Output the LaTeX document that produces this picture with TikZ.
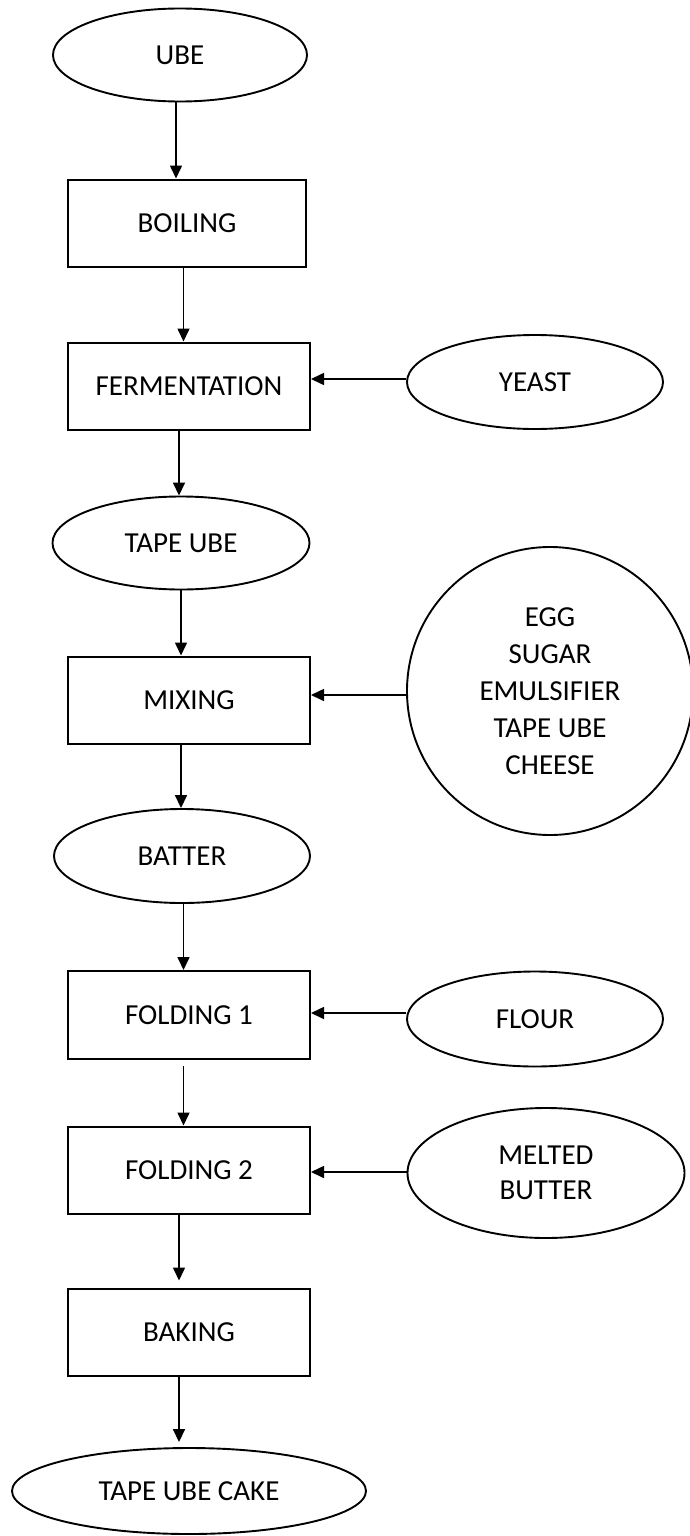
\documentclass[tikz,border=0pt]{standalone}
\usepackage{fontspec}
\setmainfont{Carlito}
\usetikzlibrary{shapes.geometric,arrows.meta}
\begin{document}
\begin{tikzpicture}[x=1pt,y=-1pt,
  every node/.style={font=\fontsize{29}{37}\selectfont, inner sep=0pt, align=center},
  procbox/.style={draw, line width=2pt, rectangle, minimum width=242pt, minimum height=87pt},
  oval/.style={draw, line width=1.9pt, ellipse},
  flow/.style={line width=1.6pt, -{Triangle[length=13pt,width=12pt]}}]
\useasboundingbox (0,0) rectangle (689,1536);
\fill[white] (0,0) rectangle (689,1536);
% nodes
\node[oval, minimum width=254pt, minimum height=93pt] (ube) at (180,55) {UBE};
\node[procbox, minimum width=238pt] (boil) at (187,223) {BOILING};
\node[procbox] (ferm) at (189,386) {FERMENTATION};
\node[oval, minimum width=256pt, minimum height=94pt] (yeast) at (535,382) {YEAST};
\node[oval, minimum width=257pt, minimum height=93pt] (tape) at (181,543) {TAPE UBE};
\node[procbox] (mix) at (189,700) {MIXING};
\node[oval, minimum width=286pt, minimum height=288pt] (ing) at (550,691) {EGG\\SUGAR\\EMULSIFIER\\TAPE UBE\\CHEESE};
\node[oval, minimum width=256pt, minimum height=94pt] (batter) at (182,856) {BATTER};
\node[procbox, minimum height=88pt] (fold1) at (189,1015) {FOLDING 1};
\node[oval, minimum width=256pt, minimum height=95pt] (flour) at (535,1019) {FLOUR};
\node[procbox] (fold2) at (189,1170) {FOLDING 2};
\node[oval, minimum width=277pt, minimum height=130pt] (butter) at (546,1173) {MELTED\\[-2pt]BUTTER};
\node[procbox] (bake) at (189,1332) {BAKING};
\node[oval, minimum width=354pt, minimum height=86pt] (cake) at (189,1491) {TAPE UBE CAKE};
% vertical connectors
\draw[flow] ([xshift=-4pt]ube.south) -- ([xshift=-4pt]ube.south |- boil.north);
\draw[flow] ([xshift=-3.5pt]boil.south) -- ([xshift=-3.5pt]boil.south |- ferm.north);
\draw[flow] ([xshift=-10pt]ferm.south) -- ([xshift=-10pt]ferm.south |- tape.north);
\draw[flow] (tape.south) -- (tape.south |- mix.north);
\draw[flow] ([xshift=-8pt]mix.south) -- ([xshift=-8pt]mix.south |- batter.north);
\draw[flow] ([xshift=1.5pt]batter.south) -- ([xshift=1.5pt]batter.south |- fold1.north);
\draw[flow] ([xshift=-5.5pt,yshift=-6pt]fold1.south) -- ([xshift=-5.5pt]fold1.south |- fold2.north);
\draw[flow] ([xshift=-10pt]fold2.south) -- ([xshift=-10pt,yshift=7pt]fold2.south |- bake.north);
\draw[flow] ([xshift=-10pt]bake.south) -- ([xshift=-10pt,yshift=5pt]bake.south |- cake.north);
% horizontal connectors
\draw[flow] ([yshift=3pt]yeast.west) -- ([yshift=3pt]yeast.west -| ferm.east);
\draw[flow] ([yshift=-4pt]ing.west) -- ([yshift=-4pt]ing.west -| mix.east);
\draw[flow] ([yshift=6pt]flour.west) -- ([yshift=6pt]flour.west -| fold1.east);
\draw[flow] ([yshift=1pt]butter.west) -- ([yshift=1pt]butter.west -| fold2.east);
\end{tikzpicture}
\end{document}
